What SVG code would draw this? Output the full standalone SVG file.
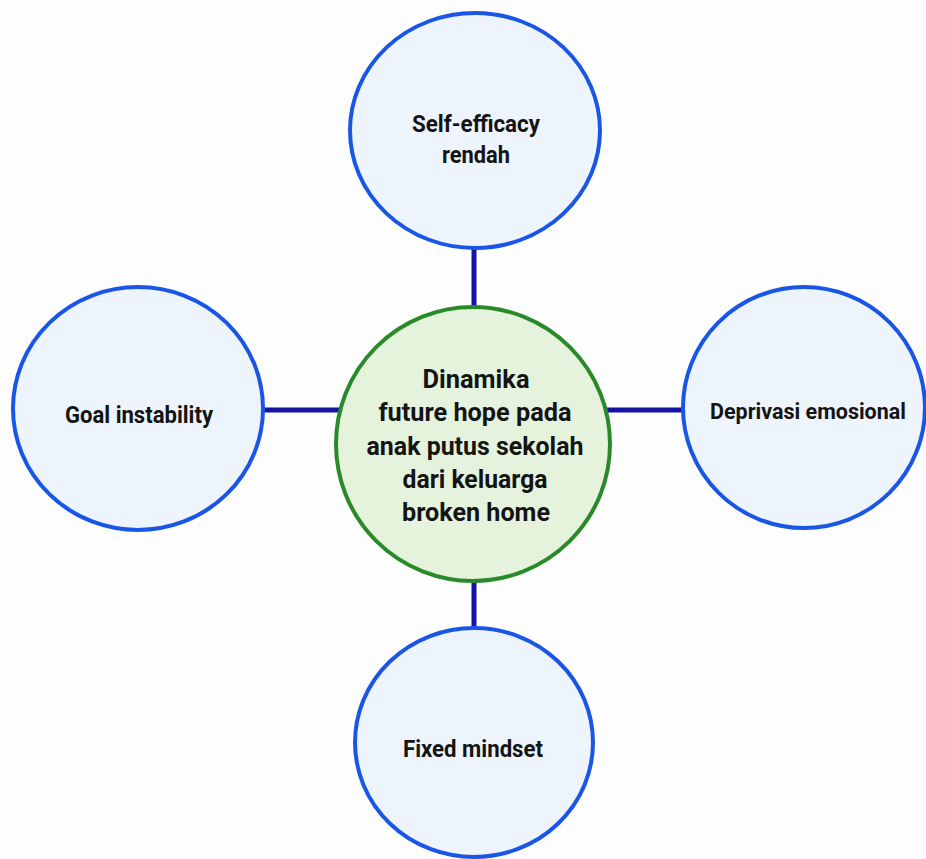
<svg xmlns="http://www.w3.org/2000/svg" width="926" height="859" viewBox="0 0 926 859">
<style>
.bg{fill:#fdfdfd}
.outer{fill:#eef4fc;stroke:#1a56e6;stroke-width:4}
.core{fill:#e5f3dd;stroke:#2a8a2a;stroke-width:4}
.conn{stroke:#1313a6;stroke-width:5;fill:none}
text{font-family:Roboto,"Liberation Sans",Arial,sans-serif;font-weight:bold;fill:#141414;text-anchor:middle}
.lbl{font-size:24px}
.ctr{font-size:26px}
</style>
<rect class="bg" x="0" y="0" width="926" height="859"/>
<g id="connectors">
<line class="conn" x1="474" y1="248" x2="474" y2="307"/>
<line class="conn" x1="474" y1="581" x2="474" y2="628"/>
<line class="conn" x1="263" y1="410" x2="339" y2="410"/>
<line class="conn" x1="607" y1="410" x2="683" y2="410"/>
</g>
<g id="node-top">
<ellipse class="outer" cx="475" cy="130.5" rx="125" ry="117.5"/>
<text class="lbl" x="476" y="132" textLength="128" lengthAdjust="spacingAndGlyphs">Self-efficacy</text>
<text class="lbl" x="476" y="163" textLength="68" lengthAdjust="spacingAndGlyphs">rendah</text>
</g>
<g id="node-left">
<ellipse class="outer" cx="138" cy="408.5" rx="125" ry="121.5"/>
<text class="lbl" x="139" y="423" textLength="148" lengthAdjust="spacingAndGlyphs">Goal instability</text>
</g>
<g id="node-right">
<ellipse class="outer" cx="804" cy="407.5" rx="121" ry="120.5"/>
<text x="808" y="419" style="font-size:22px" textLength="196" lengthAdjust="spacingAndGlyphs">Deprivasi emosional</text>
</g>
<g id="node-bottom">
<ellipse class="outer" cx="474" cy="742.5" rx="119" ry="114.5"/>
<text class="lbl" x="473" y="757" textLength="140" lengthAdjust="spacingAndGlyphs">Fixed mindset</text>
</g>
<g id="node-center">
<circle class="core" cx="473" cy="444" r="137"/>
<text class="ctr" x="476" y="388" textLength="107" lengthAdjust="spacingAndGlyphs">Dinamika</text>
<text class="ctr" x="475" y="421" textLength="193" lengthAdjust="spacingAndGlyphs">future hope pada</text>
<text class="ctr" x="475" y="455" textLength="217" lengthAdjust="spacingAndGlyphs">anak putus sekolah</text>
<text class="ctr" x="475" y="488" textLength="145" lengthAdjust="spacingAndGlyphs">dari keluarga</text>
<text class="ctr" x="476" y="521" textLength="148" lengthAdjust="spacingAndGlyphs">broken home</text>
</g>
</svg>
